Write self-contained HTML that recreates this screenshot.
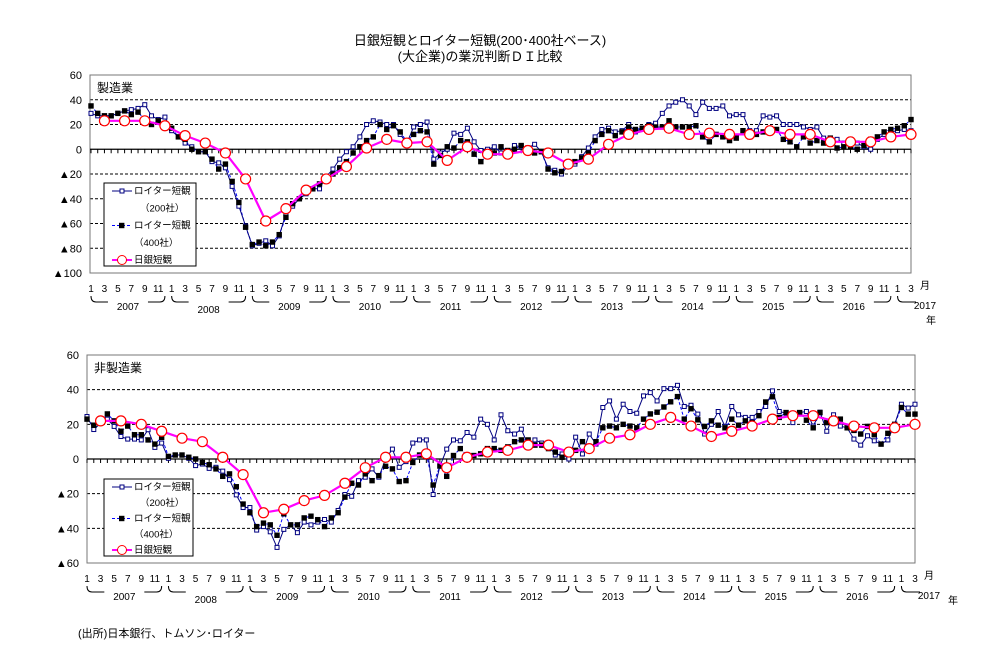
<!DOCTYPE html>
<html><head><meta charset="utf-8"><style>
html,body{margin:0;padding:0;background:#fff;}
svg text{font-family:"Liberation Sans","Noto Sans CJK JP",sans-serif;}
</style></head><body>
<svg id="s" width="992" height="667" xmlns="http://www.w3.org/2000/svg"></svg>
<script>
const S=document.getElementById('s');let h='';
function T(x,y,t,sz,anc){h+=`<text x="${x}" y="${y}" font-size="${sz||11}" text-anchor="${anc||'start'}" fill="#000">${t}</text>`;}
h+='<rect width="992" height="667" fill="#fff"/>';
T(480,45,'日銀短観とロイター短観(200･400社ベース)',13,'middle');
T(480,61,'(大企業)の業況判断ＤＩ比較',13,'middle');
function chart(c){
 const {x0,x1,y0,y1,vmax,vmin,step}=c;
 const Y=v=>y0+(vmax-v)/(vmax-vmin)*(y1-y0);
 const X=i=>c.px0+(c.px1-c.px0)*i/122;
 for(let v=vmax-step;v>vmin;v-=step){ if(v==0)continue;
  h+=`<line x1="${x0}" x2="${x1}" y1="${Y(v)}" y2="${Y(v)}" stroke="#000" stroke-width="1" stroke-dasharray="3,2"/>`;}
 h+=`<rect x="${x0}" y="${y0}" width="${x1-x0}" height="${y1-y0}" fill="none" stroke="#777" stroke-width="1"/>`;
 h+=`<line x1="${x0}" x2="${x1}" y1="${Y(0)}" y2="${Y(0)}" stroke="#000" stroke-width="1.3"/>`;
 for(let i=0;i<123;i++){h+=`<line x1="${X(i)}" x2="${X(i)}" y1="${Y(0)}" y2="${Y(0)+4}" stroke="#000" stroke-width="1"/>`;}
 for(let v=vmax;v>=vmin;v-=step){T(x0-8,Y(v)+4,(v<0?'▲':'')+Math.abs(v),11,'end');}
 T(x0+7,y0+17,c.name,12);
 for(let i=0;i<123;i+=2){const m=(i%12)+1;T(X(i),c.my,m,10,'middle');}
 T(X(122)+14,c.my-3,'月',10,'middle');
 for(let yr=0;yr<10;yr++){const a=X(yr*12),b=X(yr*12+11),m=(a+b)/2,yy=c.my+4,yb=c.my+10;
  h+=`<path d="M${a} ${yy} Q${a} ${yb} ${a+5} ${yb} L${m-20} ${yb} M${m+20} ${yb} L${b-5} ${yb} Q${b} ${yb} ${b} ${yy}" fill="none" stroke="#000" stroke-width="1"/>`;
  T(m,c.my+18+(yr==1?3:0),2007+yr,10,'middle');}
 {const a=X(120),b=X(122);h+=`<path d="M${a} ${c.my+4} Q${a} ${c.my+10} ${a+5} ${c.my+10} L${b+5} ${c.my+10}" fill="none" stroke="#000"/>`;
  T(b+14,c.my+17,'2017',10,'middle');T(b+c.nx,c.my+c.ny,'年',10,'middle');}
 const p=(arr,step0,stepI)=>arr.map((v,k)=>`${X(step0+k*stepI).toFixed(1)},${Y(v).toFixed(1)}`).join(' ');
 h+=`<polyline points="${p(c.f,0,1)}" fill="none" stroke="#0000ff" stroke-width="1" stroke-dasharray="3,2"/>`;
 h+=`<polyline points="${p(c.o,0,1)}" fill="none" stroke="#000080" stroke-width="1"/>`;
 c.o.forEach((v,k)=>{h+=`<rect x="${X(k)-2}" y="${Y(v)-2}" width="4" height="4" fill="#fff" stroke="#000080" stroke-width="1"/>`;});
 c.f.forEach((v,k)=>{h+=`<rect x="${X(k)-2.7}" y="${Y(v)-2.7}" width="5.4" height="5.4" fill="#000"/>`;});
 h+=`<polyline points="${p(c.t,2,3)}" fill="none" stroke="#ff00ff" stroke-width="2.2"/>`;
 c.t.forEach((v,k)=>{h+=`<circle cx="${X(2+3*k)}" cy="${Y(v)}" r="5" fill="#fff" stroke="#ff0000" stroke-width="1.2"/>`;});
 const L=c.leg;h+=`<rect x="${L.x}" y="${L.y}" width="${L.w}" height="${L.h}" fill="#fff" stroke="#000" stroke-width="1"/>`;
 const lx=L.x+8,sp=(L.h-14)/4;
 let yy=L.y+8;
 h+=`<line x1="${lx}" x2="${lx+20}" y1="${yy}" y2="${yy}" stroke="#000080"/><rect x="${lx+8}" y="${yy-2}" width="4" height="4" fill="#fff" stroke="#000080"/>`;T(lx+22,yy+3,'ロイター短観',9.5);
 T(lx+28,yy+sp+3,'（200社）',9.5);
 yy+=2*sp;h+=`<line x1="${lx}" x2="${lx+20}" y1="${yy}" y2="${yy}" stroke="#0000ff" stroke-dasharray="3,2"/><rect x="${lx+7}" y="${yy-2.7}" width="5.4" height="5.4" fill="#000"/>`;T(lx+22,yy+3,'ロイター短観',9.5);
 T(lx+22,yy+sp+3,'（400社）',9.5);
 yy+=2*sp;h+=`<line x1="${lx}" x2="${lx+20}" y1="${yy}" y2="${yy}" stroke="#ff00ff" stroke-width="2"/><circle cx="${lx+10}" cy="${yy}" r="4.5" fill="#fff" stroke="#f00"/>`;T(lx+22,yy+3,'日銀短観',9.5);
}
chart({x0:90,x1:911,y0:75,y1:273,vmax:60,vmin:-100,step:20,px0:91,px1:911,my:292,nx:20,ny:32,name:'製造業',
leg:{x:104,y:183,w:92,h:83},
o:[29,27,27,27,29,31,32,33,36,27,24,26,15,10,5,2,-2,-2,-10,-11,-15,-30,-46,-62,-78,-76,-74,-78,-70,-52,-46,-40,-36,-32,-32,-22,-16,-8,-2,2,10,20,23,22,20,20,12,5,18,20,22,-8,-3,0,13,12,17,6,-1,0,2,-3,-4,3,2,1,4,-2,-15,-17,-20,-13,-12,-6,1,10,16,17,14,15,20,14,17,20,21,29,35,38,40,35,28,38,33,33,35,27,28,28,15,15,27,26,27,20,20,20,18,16,18,9,9,8,5,8,5,2,0,8,12,14,15,16,15],
f:[35,29,27,27,29,31,28,30,24,20,23,20,17,10,8,0,-2,-2,-8,-16,-12,-26,-43,-63,-77,-75,-78,-75,-69,-55,-44,-40,-35,-32,-28,-25,-20,-15,-10,-3,2,7,10,20,16,19,14,6,12,15,14,-12,-5,2,1,7,6,-4,-10,-5,-3,2,-1,0,3,1,-3,-2,-16,-19,-18,-11,-10,-7,-3,7,12,15,11,14,18,16,17,19,18,18,23,18,18,18,19,10,6,12,10,7,9,15,10,12,14,14,16,8,6,2,10,5,7,5,9,1,2,2,0,3,8,10,14,16,17,19,24],
t:[23,23,23,19,11,5,-3,-24,-58,-48,-33,-24,-14,1,8,5,6,-9,2,-4,-4,-1,-3,-12,-8,4,12,16,17,12,13,12,12,15,12,12,6,6,6,10,12]});
chart({x0:87,x1:915,y0:355,y1:563,vmax:60,vmin:-60,step:20,px0:87,px1:915,my:582,nx:38,ny:22,name:'非製造業',
leg:{x:104,y:479,w:89,h:77},
o:[24.5,17,20.7,23,18.8,13,11.5,11.5,11,16.9,6.7,9.2,0.4,2.3,2.3,0.4,-3.8,-2.9,-5.4,-4.8,-7,-11.9,-20.7,-28,-28,-41,-39,-42,-51,-40.6,-38,-42.5,-36.4,-38,-36.4,-34.9,-36.4,-29.7,-20.5,-21.5,-12.5,-10.5,-5.7,-10.5,0,5.7,-4.8,-1.5,9.2,11,11,-20.5,-4.2,5.7,11,10.5,15.3,12.6,23,20,11,25.5,16.3,14.4,17.2,7.7,11,9.2,7.7,2.3,2.9,0,12.6,2.9,14.4,8.6,29.7,33.5,23,31.6,27.4,26.4,36.4,38.3,33.5,40.6,40.6,42.5,30.3,31,25.9,14.4,20,27.4,18.8,30.3,25.5,24,24,27.4,30.3,39.3,27.4,26.4,21,26.8,27.4,19,27,16,25.5,19,18,11.5,8,13.4,10.5,8.6,11,20,31.6,29.4,31.6],
f:[23,19.5,22,26,22,16,19,14,14,11,8.6,12.5,1.5,2.3,2.3,1,0,-2,-3.3,-5.7,-10,-8.6,-16,-26,-31,-39,-37,-38,-44,-31.6,-38,-38,-34,-33,-35,-39,-34,-31,-22,-14,-15,-8.6,-12.5,-9.6,-4.2,-5.7,-13,-12.5,-2,2.3,3,-15,-4,-10,2,6,2,2,3,6,6,5,7,10,11,11,8,8,6,4,1,3,5,10,6,10,18,19,18,20,19,18,23,26,27,30,33,36,23,29,22.6,18.8,22,19.5,18,23,19.5,22,21,25,32.9,35.9,24,26.8,24,26.8,22.4,18,26.8,21,21,23,18,16.5,14.4,18.8,14,8.6,14.8,20,29.7,25.9,25.9],
t:[22,22,20,16,12,10,1,-9,-31,-29,-24,-21,-14,-5,1,1,3,-5,1,4,5,8,8,4,6,12,14,20,24,19,13,16,19,23,25,25,22,19,18,18,20]});
T(78,637,'(出所)日本銀行、トムソン･ロイター',11);
S.innerHTML=h;
</script>
</body></html>
